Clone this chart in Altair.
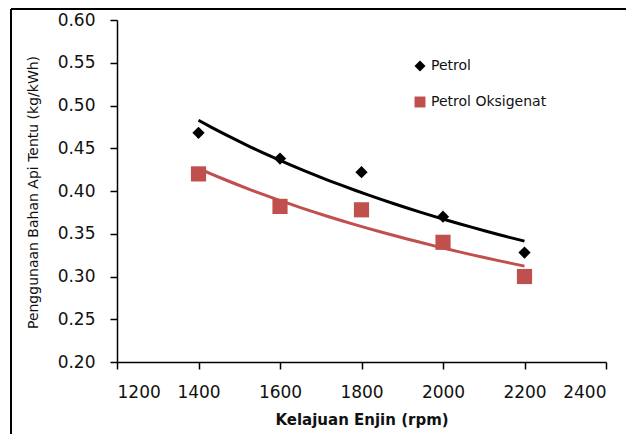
import altair as alt
import pandas as pd

rpm = [1400, 1600, 1800, 2000, 2200]
petrol = [0.468, 0.438, 0.422, 0.370, 0.328]
oksigenat = [0.420, 0.382, 0.378, 0.340, 0.300]
series_names = ["Petrol", "Petrol Oksigenat"]
x_ticks = [1200, 1400, 1600, 1800, 2000, 2200, 2400]
y_ticks = [0.20, 0.25, 0.30, 0.35, 0.40, 0.45, 0.50, 0.55, 0.60]

df = pd.DataFrame({
    "rpm": rpm + rpm,
    "value": petrol + oksigenat,
    "series": [series_names[0]] * len(rpm) + [series_names[1]] * len(rpm),
})

RED = "#C0504D"
FONT = "DejaVu Sans"

x_enc = alt.X(
    "rpm:Q",
    scale=alt.Scale(domain=[1200, 2400], nice=False, zero=False),
    axis=alt.Axis(
        values=x_ticks, format="d", title="Kelajuan Enjin (rpm)",
        titleX=244.5, titleY=50, titleAlign="center", titleBaseline="top",
        titleFontSize=15, titleFontWeight="bold",
    ),
)
y_enc = alt.Y(
    "value:Q",
    scale=alt.Scale(domain=[0.2, 0.6], nice=False, zero=False),
    axis=alt.Axis(
        values=y_ticks, format=".2f", title="Penggunaan Bahan Api Tentu (kg/kWh)",
        titleX=-84, titleY=172, titleAngle=270, titleAlign="center",
        titleBaseline="middle", titleFontSize=14, titleFontWeight="normal",
    ),
)
color_enc = alt.Color(
    "series:N",
    scale=alt.Scale(domain=series_names, range=["#000000", RED]),
    legend=alt.Legend(title=None),
)
shape_enc = alt.Shape(
    "series:N",
    scale=alt.Scale(domain=series_names, range=["diamond", "square"]),
    legend=alt.Legend(title=None),
)

base = alt.Chart(df)

pts_petrol = base.transform_filter(alt.datum.series == series_names[0]).mark_point(
    filled=True, opacity=1, size=150
).encode(x=x_enc, y=y_enc, color=color_enc, shape=shape_enc)

pts_oks = base.transform_filter(alt.datum.series == series_names[1]).mark_point(
    filled=True, opacity=1, size=230
).encode(x=x_enc, y=y_enc, color=color_enc, shape=shape_enc)

line_petrol = base.transform_filter(alt.datum.series == series_names[0]).transform_regression(
    "rpm", "value", method="pow"
).mark_line(color="#000000", strokeWidth=3).encode(x="rpm:Q", y="value:Q")

line_oks = base.transform_filter(alt.datum.series == series_names[1]).transform_regression(
    "rpm", "value", method="pow"
).mark_line(color=RED, strokeWidth=3).encode(x="rpm:Q", y="value:Q")

frame_data = alt.Data(values=[{"k": 1}])
frame_top = alt.Chart(frame_data).mark_rule(color="#000000", strokeWidth=2).encode(
    x=alt.value(-106), x2=alt.value(509), y=alt.value(-11)
)
frame_left = alt.Chart(frame_data).mark_rule(color="#000000", strokeWidth=2).encode(
    x=alt.value(-106), y=alt.value(-11), y2=alt.value(414)
)

chart = alt.layer(
    pts_petrol, pts_oks, line_petrol, line_oks, frame_top, frame_left
).properties(
    width=489, height=342,
    autosize=alt.AutoSizeParams(type="none"),
    padding={"left": 109, "top": 12, "right": 20, "bottom": 72},
).configure_view(
    stroke=None
).configure_axis(
    grid=False,
    domainColor="#000000", domainWidth=1.5,
    tickColor="#000000", tickWidth=1.5, tickSize=7,
    labelFont=FONT, labelFontSize=17, labelColor="#111111",
    titleFont=FONT, titleColor="#111111",
).configure_axisX(
    labelPadding=15,
).configure_axisY(
    labelPadding=15,
).configure_legend(
    orient="none", legendX=296, legendY=39,
    labelFont=FONT, labelFontSize=14, labelColor="#111111",
    symbolSize=120, rowPadding=22, labelOffset=4,
    symbolStrokeWidth=0,
)

chart.save("out.html", embed_options={"renderer": "svg", "actions": False})
